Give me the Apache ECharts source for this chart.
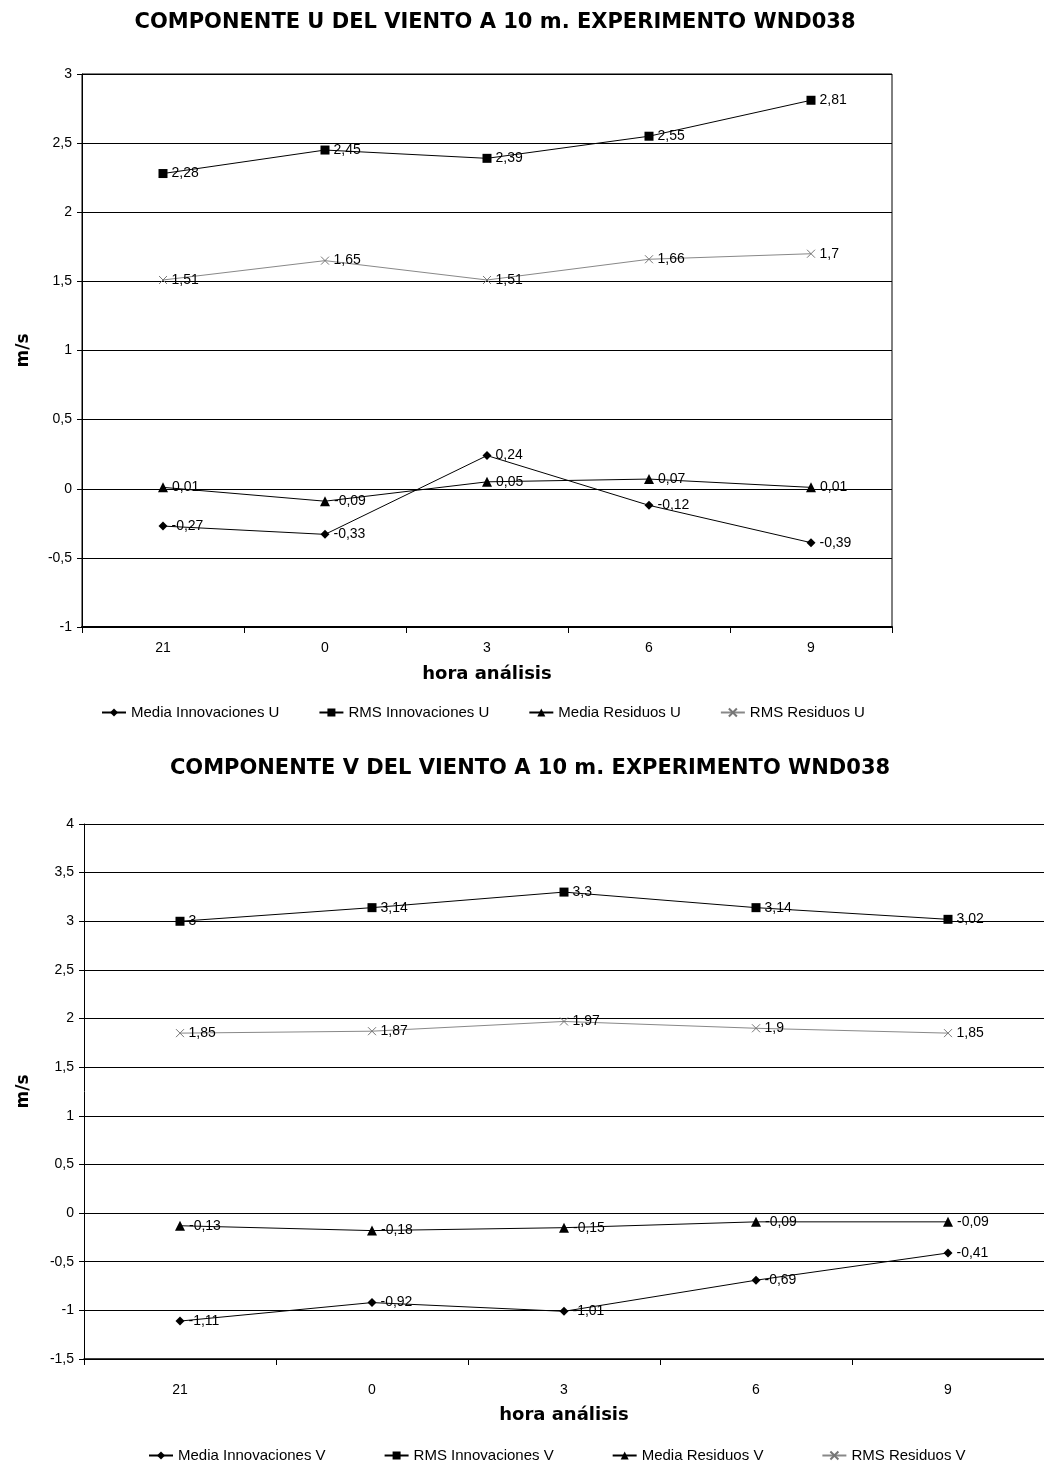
<!DOCTYPE html>
<html>
<head>
<meta charset="utf-8">
<script src="https://cdn.jsdelivr.net/npm/echarts@6/dist/echarts.min.js"></script>
<style>
html,body{margin:0;padding:0;background:#fff;}
#c{width:1044px;height:1464px;}
</style>
</head>
<body>
<div id="c"></div>
<script>
var categories = ['21', '0', '3', '6', '9'];

var mediaInnovU = [-0.27, -0.33, 0.24, -0.12, -0.39];
var rmsInnovU = [2.28, 2.45, 2.39, 2.55, 2.81];
var mediaResU = [0.01, -0.09, 0.05, 0.07, 0.01];
var rmsResU = [1.51, 1.65, 1.51, 1.66, 1.7];

var mediaInnovV = [-1.11, -0.92, -1.01, -0.69, -0.41];
var rmsInnovV = [3, 3.14, 3.3, 3.14, 3.02];
var mediaResV = [-0.13, -0.18, -0.15, -0.09, -0.09];
var rmsResV = [1.85, 1.87, 1.97, 1.9, 1.85];

var titleU = 'COMPONENTE U DEL VIENTO A 10 m. EXPERIMENTO WND038';
var titleV = 'COMPONENTE V DEL VIENTO A 10 m. EXPERIMENTO WND038';
var namesU = ['Media Innovaciones U', 'RMS Innovaciones U', 'Media Residuos U', 'RMS Residuos U'];
var namesV = ['Media Innovaciones V', 'RMS Innovaciones V', 'Media Residuos V', 'RMS Residuos V'];

var FONT = '"Liberation Sans", Arial, sans-serif';
var BFONT = '"DejaVu Sans", "Liberation Sans", Arial, sans-serif';
var fmt = function (v) { return String(v).replace('.', ','); };
var xPath = 'path://M0,0L10,10M10,0L0,10';

var symbols = ['diamond', 'rect', 'triangle', xPath];
var symSizes = [9, 9, 10, 8];

function makeSeries(names, arrays, gi) {
  return arrays.map(function (arr, i) {
    var isX = i === 3;
    return {
      name: names[i],
      type: 'line',
      xAxisIndex: gi, yAxisIndex: gi,
      data: arr,
      symbol: symbols[i],
      symbolSize: symSizes[i],
      showAllSymbol: true,
      lineStyle: { color: isX ? '#888' : '#000', width: 1 },
      itemStyle: isX ? { color: 'rgba(0,0,0,0)', borderColor: '#777', borderWidth: 1 } : { color: '#000' },
      label: {
        show: true, position: 'right', distance: 4,
        color: '#000', fontFamily: FONT, fontSize: 14,
        formatter: function (p) { return fmt(p.value); }
      },
      emphasis: { disabled: true },
      animation: false
    };
  });
}

function xAx(gi, margin, nameGap, lw) {
  return {
    gridIndex: gi, type: 'category', data: categories, boundaryGap: true,
    name: 'hora análisis', nameLocation: 'middle', nameGap: nameGap,
    nameTextStyle: { fontFamily: BFONT, fontWeight: 'bold', fontSize: 18, color: '#000' },
    axisLine: { onZero: false, lineStyle: { color: '#000', width: lw } },
    axisTick: { show: true, length: 6, alignWithLabel: false, lineStyle: { color: '#000' } },
    axisLabel: { color: '#000', fontFamily: FONT, fontSize: 14, margin: margin },
    splitLine: { show: false }
  };
}

function yAx(gi, min, max, nameGap) {
  return {
    gridIndex: gi, type: 'value', min: min, max: max, interval: 0.5,
    name: 'm/s', nameLocation: 'middle', nameGap: nameGap, nameRotate: 90,
    nameTextStyle: { fontFamily: BFONT, fontWeight: 'bold', fontSize: 17, color: '#000' },
    axisLine: { show: true, lineStyle: { color: '#000', width: 1 } },
    axisTick: { show: true, length: 5, lineStyle: { color: '#000' } },
    axisLabel: { color: '#000', fontFamily: FONT, fontSize: 14, margin: 10, formatter: fmt },
    splitLine: { show: true, lineStyle: { color: '#000', width: 1 } }
  };
}

var chart = echarts.init(document.getElementById('c'), null, { renderer: 'canvas' });
chart.setOption({
  backgroundColor: '#fff',
  animation: false,
  title: [
    { text: titleU, left: 490, top: 7, textAlign: 'center',
      textStyle: { fontFamily: BFONT, fontWeight: 'bold', fontSize: 21, color: '#000' } },
    { text: titleV, left: 525, top: 753, textAlign: 'center',
      textStyle: { fontFamily: BFONT, fontWeight: 'bold', fontSize: 21, color: '#000' } }
  ],
  legend: [
    { data: namesU, top: 700, left: 96, itemGap: 39, itemWidth: 24, itemHeight: 10,
      textStyle: { fontFamily: FONT, fontSize: 15, color: '#000' }, selectedMode: false },
    { data: namesV, top: 1443, left: 143, itemGap: 58, itemWidth: 24, itemHeight: 10,
      textStyle: { fontFamily: FONT, fontSize: 15, color: '#000' }, selectedMode: false }
  ],
  grid: [
    { left: 82, top: 74, width: 810, height: 553, show: true, borderColor: '#000', borderWidth: 1, backgroundColor: 'transparent' },
    { left: 84, top: 824, width: 965, height: 535 }
  ],
  xAxis: [xAx(0, 14, 38, 2), xAx(1, 24, 47, 1.5)],
  yAxis: [yAx(0, -1, 3, 50), yAx(1, -1.5, 4, 52)],
  series: makeSeries(namesU, [mediaInnovU, rmsInnovU, mediaResU, rmsResU], 0)
    .concat(makeSeries(namesV, [mediaInnovV, rmsInnovV, mediaResV, rmsResV], 1))
});
</script>
</body>
</html>
